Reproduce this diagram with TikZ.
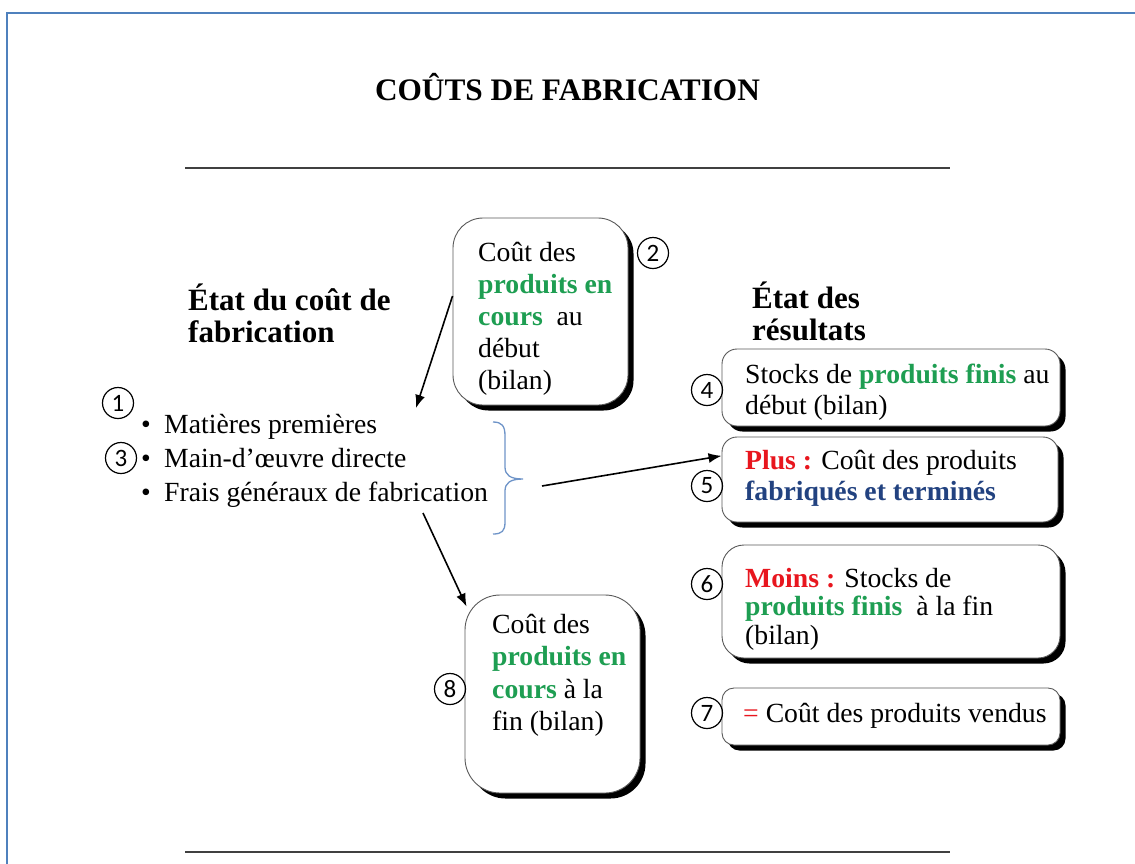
\documentclass[tikz,border=0pt]{standalone}
\usepackage{fontspec}
\setmainfont{Liberation Serif}
\newfontfamily\numfont{Carlito}
\usetikzlibrary{shadows,arrows.meta,calc}
\definecolor{grn}{RGB}{30,158,82}
\definecolor{rd}{RGB}{232,22,30}
\definecolor{navy}{RGB}{34,66,128}
\definecolor{frameblue}{RGB}{79,129,189}
\definecolor{braceblue}{RGB}{110,148,200}
\begin{document}
\begin{tikzpicture}[x=1pt,y=-1pt,
  txt/.style={font=\fontsize{27.7}{32}\selectfont, align=left, inner sep=0pt, anchor=north west},
  head/.style={font=\fontsize{31}{32}\selectfont\bfseries, align=left, inner sep=0pt, anchor=north west},
  card/.style={draw=black!65, line width=0.9pt, fill=white, inner sep=0pt,
    general shadow={fill=black, shadow xshift=5.5pt, shadow yshift=-5.5pt}},
  num/.style={circle, draw, line width=1.2pt, inner sep=0pt, minimum size=31pt,
    font=\numfont\fontsize{25}{25}\selectfont},
  arr/.style={line width=1.6pt, -{Latex[length=13pt,width=10pt]}},
  rule/.style={line width=1.8pt, draw=black!75},
  brace/.style={line width=1.3pt, draw=braceblue}]
\useasboundingbox (0,0) rectangle (1135,863);
% frame
\draw[line width=2.6pt, frameblue] (7,880) -- (7,13) -- (1150,13);
% title and rules
\node[font=\fontsize{31.3}{31}\selectfont\bfseries, inner sep=0pt, anchor=base] (title) at (567.5,100) {COÛTS DE FABRICATION};
\draw[rule] (185,168) -- (950,168);
\draw[rule] (185,852) -- (950,852);
% headings
\node[head] (hl) at (188,284) {État du coût de\\fabrication};
\node[head] (hr) at (752,282) {État des\\résultats};
% list
\node[txt, font=\fontsize{27.7}{34}\selectfont] (list) at (141,414)
  {\makebox[23pt][l]{\textbullet}Matières premières\\
   \makebox[23pt][l]{\textbullet}Main-d’œuvre directe\\
   \makebox[23pt][l]{\textbullet}Frais généraux de fabrication};
% boxes
\node[card, rounded corners=30pt, minimum width=175pt, minimum height=187pt] (b2) at (540.5,311.5) {};
\node[txt] (t2) at (478,242) {Coût des\\\textbf{\textcolor{grn}{produits en}}\\\textbf{\textcolor{grn}{cours}}\ \ au\\début\\(bilan)};
\node[card, rounded corners=15pt, minimum width=338pt, minimum height=77pt] (b4) at (891,387.5) {};
\node[txt, font=\fontsize{27.7}{31}\selectfont] (t4) at (745,364) {Stocks de \textbf{\textcolor{grn}{produits finis}} au\\début (bilan)};
\node[card, rounded corners=15pt, minimum width=336pt, minimum height=85pt] (b5) at (890,479.5) {};
\node[txt, font=\fontsize{27.7}{31}\selectfont] (t5) at (745,450) {\textbf{\textcolor{rd}{Plus :}} Coût des produits\\\textbf{\textcolor{navy}{fabriqués et terminés}}};
\node[card, rounded corners=22pt, minimum width=338pt, minimum height=113pt] (b6) at (891,601.5) {};
\node[txt, font=\fontsize{27.7}{28.5}\selectfont] (t6) at (745,568) {\textbf{\textcolor{rd}{Moins :}} Stocks de\\\textbf{\textcolor{grn}{produits finis}}\ \ à la fin\\(bilan)};
\node[card, rounded corners=12pt, minimum width=338pt, minimum height=57pt] (b7) at (891,716.5) {};
\node[txt] (t7) at (743,703) {\textcolor{rd}{=} Coût des produits vendus};
\node[card, rounded corners=35pt, minimum width=175pt, minimum height=198pt] (b8) at (552.5,694) {};
\node[txt, font=\fontsize{27.7}{32.5}\selectfont] (t8) at (492,614) {Coût des\\\textbf{\textcolor{grn}{produits en}}\\\textbf{\textcolor{grn}{cours}} à la\\fin (bilan)};
% circled numbers
\node[num] (n1) at (118,403) {1};
\node[num] (n2) at (653,253) {2};
\node[num] (n3) at (121,458) {3};
\node[num] (n4) at (707,390) {4};
\node[num] (n5) at (707,486) {5};
\node[num] (n6) at (707,584) {6};
\node[num] (n7) at (707,713) {7};
\node[num] (n8) at (450,689) {8};
% brace
\draw[brace] (493,422) .. controls (502,422) and (505,426) .. (505,436) -- (505,467)
  .. controls (505,475) and (510,479) .. (523,479)
  .. controls (510,479) and (505,483) .. (505,491) -- (505,522)
  .. controls (505,531) and (502,534) .. (493,534);
% arrows
\coordinate (a1) at (416,408);
\coordinate (bt) at (542,486);
\coordinate (ls) at (423,513);
\draw[arr] (b2.170) -- (a1);
\draw[arr] (bt) -- (b5.172);
\draw[arr] (ls) -- ($(b8.north west)+(2,12)$);
\end{tikzpicture}
\end{document}
